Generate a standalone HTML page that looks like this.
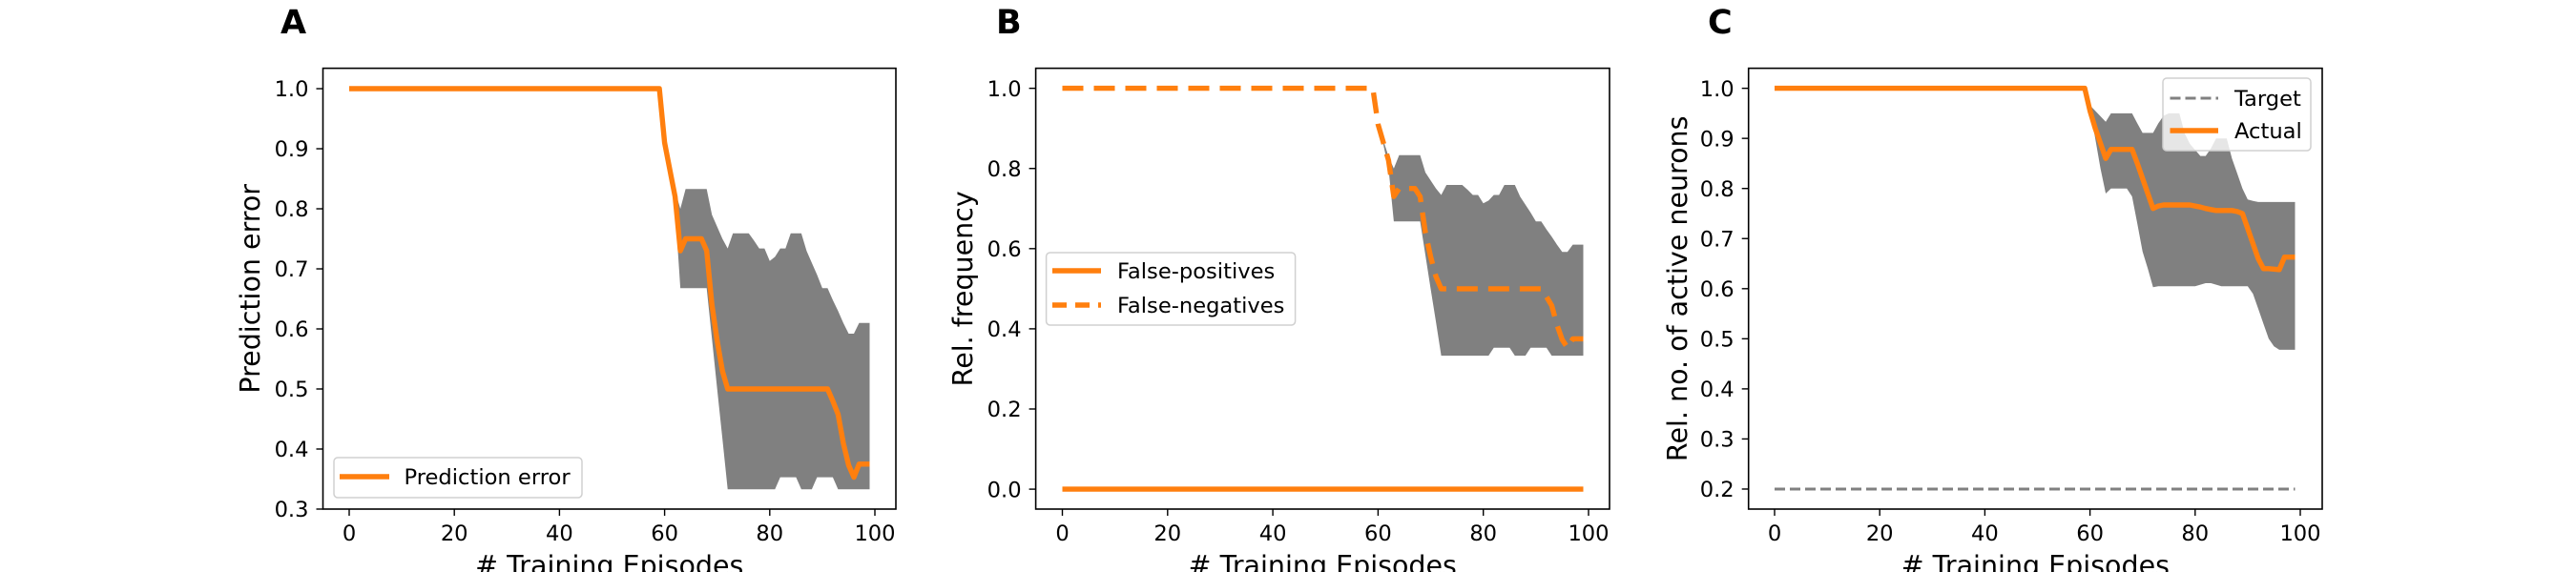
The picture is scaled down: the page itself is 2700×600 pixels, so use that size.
<!DOCTYPE html>
<html><head><meta charset="utf-8"><style>
html,body{margin:0;padding:0;background:#fff;}
svg{display:block;font-family:"DejaVu Sans","Liberation Sans",sans-serif;}
</style></head><body>
<svg id="fig" width="2700" height="600" viewBox="0 0 2700 600" xmlns="http://www.w3.org/2000/svg"></svg>
<script>
// ---- data ----
const episodes = Array.from({length:100},(_,i)=>i);
const xTicks = [0,20,40,60,80,100];
const ticksA = [0.3,0.4,0.5,0.6,0.7,0.8,0.9,1.0];
const ticksB = [0.0,0.2,0.4,0.6,0.8,1.0];
const ticksC = [0.2,0.3,0.4,0.5,0.6,0.7,0.8,0.9,1.0];
const ones60 = new Array(60).fill(1.0);
const predTail = [0.91,0.865,0.82,0.73,0.75,0.75,0.75,0.75,0.73,0.64,0.58,0.53,0.5,0.5,0.5,0.5,0.5,0.5,0.5,0.5,0.5,0.5,0.5,0.5,0.5,0.5,0.5,0.5,0.5,0.5,0.5,0.5,0.48,0.458,0.41,0.373,0.353,0.375,0.375,0.375];
const predUpTail = [0.91,0.87,0.83,0.80,0.833,0.833,0.833,0.833,0.833,0.79,0.77,0.75,0.734,0.759,0.759,0.759,0.759,0.747,0.734,0.734,0.713,0.72,0.734,0.734,0.759,0.759,0.759,0.73,0.71,0.69,0.668,0.668,0.648,0.63,0.61,0.592,0.592,0.61,0.61,0.61];
const predLoTail = [0.91,0.86,0.80,0.668,0.668,0.668,0.668,0.668,0.668,0.584,0.5,0.417,0.333,0.333,0.333,0.333,0.333,0.333,0.333,0.333,0.333,0.333,0.353,0.353,0.353,0.353,0.333,0.333,0.333,0.353,0.353,0.353,0.353,0.333,0.333,0.333,0.333,0.333,0.333,0.333];
const predError = ones60.concat(predTail);
const predUpper = ones60.concat(predUpTail);
const predLower = ones60.concat(predLoTail);
const falsePos = new Array(100).fill(0);
const falseNeg = predError.slice();
const activeTail = [0.955,0.92,0.89,0.86,0.878,0.878,0.878,0.878,0.878,0.85,0.82,0.79,0.76,0.765,0.767,0.767,0.767,0.767,0.767,0.767,0.765,0.763,0.76,0.758,0.756,0.756,0.756,0.756,0.754,0.75,0.72,0.69,0.66,0.64,0.64,0.639,0.638,0.663,0.663,0.663];
const activeUpTail = [0.966,0.955,0.944,0.933,0.95,0.95,0.95,0.95,0.95,0.93,0.911,0.911,0.911,0.93,0.945,0.95,0.95,0.95,0.91,0.889,0.877,0.865,0.865,0.88,0.9,0.9,0.9,0.86,0.83,0.8,0.778,0.775,0.773,0.773,0.773,0.773,0.773,0.773,0.773,0.773];
const activeLoTail = [0.958,0.9,0.84,0.79,0.8,0.8,0.8,0.8,0.784,0.73,0.674,0.64,0.603,0.605,0.605,0.605,0.605,0.605,0.605,0.605,0.605,0.608,0.611,0.611,0.608,0.605,0.605,0.605,0.605,0.605,0.605,0.59,0.56,0.53,0.5,0.485,0.478,0.478,0.478,0.478];
const activeMean = ones60.concat(activeTail);
const activeUpper = ones60.concat(activeUpTail);
const activeLower = ones60.concat(activeLoTail);
const targetVal = new Array(100).fill(0.2);

const NS="http://www.w3.org/2000/svg";
const svg=document.getElementById('fig');
function mk(tag,attrs,parent){const e=document.createElementNS(NS,tag);for(const k in attrs)e.setAttribute(k,attrs[k]);(parent||svg).appendChild(e);return e;}
const ORANGE="#ff7f0e";

function panel(cfg){
  const g=mk('g',{});
  
  
  const L=cfg.left,R=cfg.right,T=71.6,B=534;
  const x0px=cfg.x0px, x100px=cfg.x100px;
  const sx=v=>x0px+(x100px-x0px)*v/100;
  const sy=v=>T+(B-T)*(cfg.ymax-v)/(cfg.ymax-cfg.ymin);
  // fill band
  if(cfg.upper){
    let d='';
    episodes.forEach((x,i)=>{d+=(i?'L':'M')+sx(x).toFixed(1)+','+sy(cfg.upper[i]).toFixed(1);});
    for(let i=episodes.length-1;i>=0;i--) d+='L'+sx(episodes[i]).toFixed(1)+','+sy(cfg.lower[i]).toFixed(1);
    const band=mk('path',{d:d+'Z',fill:'#808080',stroke:'none'},g);
    
    
  }
  cfg.series.forEach(s=>{
    let d='';
    episodes.forEach((x,i)=>{d+=(i?'L':'M')+sx(x).toFixed(1)+','+sy(s.vals[i]).toFixed(1);});
    const p=mk('path',{d:d,fill:'none',stroke:s.color,'stroke-width':s.w,'stroke-dasharray':s.dash||'none','stroke-linejoin':'round'},g);
    
    
  });
  // spines
  const fr=mk('rect',{x:L,y:T,width:R-L,height:B-T,fill:'none',stroke:'#000','stroke-width':1.6},g);
  
  
  xTicks.forEach(t=>{
    const x=sx(t);
    mk('line',{x1:x,x2:x,y1:B,y2:B+7,stroke:'#000','stroke-width':1.4},g);
    const tx=mk('text',{x:x,y:567,'text-anchor':'middle','font-size':22.6},g);
    tx.textContent=String(t);
    
    
  });
  cfg.yticks.forEach(t=>{
    const y=sy(t);
    mk('line',{x1:L-7,x2:L,y1:y,y2:y,stroke:'#000','stroke-width':1.4},g);
    const ty=mk('text',{x:L-15,y:y+8.2,'text-anchor':'end','font-size':22.6},g);
    ty.textContent=t.toFixed(1);
    
    
  });
  const xl=mk('text',{x:(L+R)/2,y:603,'text-anchor':'middle','font-size':28.5},g);
  xl.textContent='# Training Episodes';
  
  
  const yl=mk('text',{x:0,y:0,'text-anchor':'middle','font-size':28.5,transform:`translate(${cfg.ylabelX},${(T+B)/2}) rotate(-90)`},g);
  yl.textContent=cfg.ylabel;
  
  
  const pl=mk('text',{x:cfg.letterX,y:35,'font-size':35,'font-weight':'bold'},g);
  pl.textContent=cfg.letter;
  
  
  // legend
  const lg=mk('g',{},g);
  
  
  const lb=cfg.legend;
  mk('rect',{x:lb.x,y:lb.y,width:lb.w,height:lb.h,rx:4,fill:'#fff','fill-opacity':0.8,stroke:'#d0d0d0','stroke-width':1.5},lg);
  lb.items.forEach(it=>{
    const ln=mk('line',{x1:lb.sx1,x2:lb.sx2,y1:it.y,y2:it.y,stroke:it.color,'stroke-width':it.w,'stroke-dasharray':it.dash||'none'},lg);
    
    
    const lt=mk('text',{x:lb.tx,y:it.y+8,'font-size':22.6},lg);
    lt.textContent=it.label;
    
    
  });
}

panel({name:'panel-a-prediction-error',letter:'A',letterX:294,left:338.5,right:939,x0px:366,x100px:917,
  ymin:0.3,ymax:1.034,yticks:ticksA,ylabel:'Prediction error',ylabelX:272,
  upper:predUpper,lower:predLower,
  series:[{name:'prediction-error-line',vals:predError,color:ORANGE,w:5.4}],
  legend:{x:350,y:480,w:260,h:42,sx1:356,sx2:408,tx:423.5,items:[{y:500,label:'Prediction error',color:ORANGE,w:5.4}]}});

panel({name:'panel-b-rel-frequency',letter:'B',letterX:1044,left:1085.6,right:1687,x0px:1113.5,x100px:1665,
  ymin:-0.0497,ymax:1.05,yticks:ticksB,ylabel:'Rel. frequency',ylabelX:1019,
  upper:predUpper,lower:predLower,
  series:[{name:'false-positives-line',vals:falsePos,color:ORANGE,w:5.4},
          {name:'false-negatives-line',vals:falseNeg,color:ORANGE,w:5.4,dash:'22 11'}],
  legend:{x:1096.6,y:265,w:261,h:76,sx1:1103,sx2:1154,tx:1171,items:[
    {y:284,label:'False-positives',color:ORANGE,w:5.4},
    {y:320,label:'False-negatives',color:ORANGE,w:5.4,dash:'15 9'}]}});

panel({name:'panel-c-active-neurons',letter:'C',letterX:1790,left:1832.7,right:2434,x0px:1860,x100px:2411,
  ymin:0.16,ymax:1.04,yticks:ticksC,ylabel:'Rel. no. of active neurons',ylabelX:1768,
  upper:activeUpper,lower:activeLower,
  series:[{name:'target-line',vals:targetVal,color:'#808080',w:3,dash:'11 5'},
          {name:'actual-line',vals:activeMean,color:ORANGE,w:5.4}],
  legend:{x:2267,y:82,w:155,h:76,sx1:2274.5,sx2:2325,tx:2342,items:[
    {y:103,label:'Target',color:'#808080',w:3,dash:'11 5'},
    {y:137,label:'Actual',color:ORANGE,w:5.4}]}});
</script>
</body></html>
